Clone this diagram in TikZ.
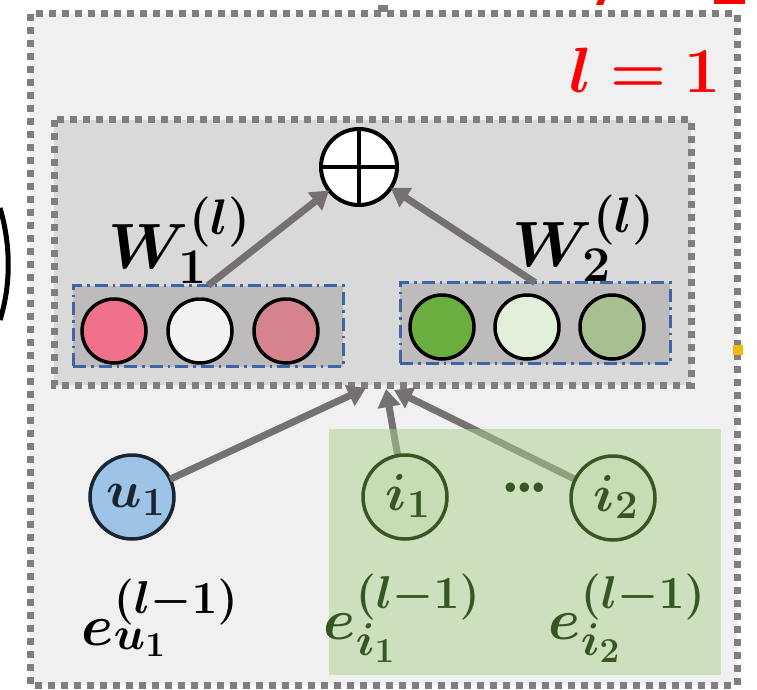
\RequirePackage{fix-cm}
\documentclass[tikz,border=0pt]{standalone}
\usepackage{amsmath,bm}
\usetikzlibrary{arrows.meta}

% larger scripts for the big formula sizes
\DeclareMathSizes{64}{64}{50}{38}
\DeclareMathSizes{58}{58}{46}{35}
\DeclareMathSizes{52}{52}{40}{30}

\definecolor{outerbg}{HTML}{F0F0F0}
\definecolor{innerbg}{HTML}{D9D9D9}
\definecolor{rowbg}{HTML}{BDBBBB}
\definecolor{dotgray}{HTML}{7F7F7F}
\definecolor{arrowgray}{HTML}{767171}
\definecolor{dashblue}{HTML}{3E64A6}
\definecolor{pinkA}{HTML}{F0728A}
\definecolor{pinkB}{HTML}{F2F2F2}
\definecolor{pinkC}{HTML}{D5838D}
\definecolor{greenA}{HTML}{6AAE3F}
\definecolor{greenB}{HTML}{E2EFD9}
\definecolor{greenC}{HTML}{A8BF90}
\definecolor{itemgreen}{HTML}{A9D18E}
\definecolor{itemfill}{HTML}{C6DCB5}
\definecolor{darkgreen}{HTML}{375623}
\definecolor{userblue}{HTML}{9DC3E6}
\definecolor{usernavy}{HTML}{1A2533}
\definecolor{layerred}{HTML}{FF0000}
\definecolor{tickorange}{HTML}{F2B90F}

\tikzset{
  dotbox/.style={draw=dotgray, line width=7pt, dash pattern=on 7pt off 6pt},
  rowbox/.style={fill=rowbg, draw=dashblue, line width=3pt,
    dash pattern=on 13pt off 5pt on 2.5pt off 5pt,
    minimum width=270pt, minimum height=81pt, inner sep=0pt, outer sep=0pt},
  unit/.style={circle, draw=black, line width=3.5pt, minimum size=64pt,
    inner sep=0pt, outer sep=0pt},
  entity/.style={circle, line width=3.5pt, minimum size=84pt,
    inner sep=0pt, outer sep=0pt},
  arr/.style={draw=arrowgray, line width=7pt,
    -{Triangle[length=18pt, width=22pt]}},
  bigmath/.style={inner sep=0pt, font=\fontsize{64}{64}\selectfont},
  midmath/.style={inner sep=0pt, font=\fontsize{58}{58}\selectfont},
  nodemath/.style={inner sep=0pt, font=\fontsize{52}{52}\selectfont},
}

\begin{document}
\begin{tikzpicture}[x=1pt, y=-1pt]
\useasboundingbox (0,0) rectangle (757,690);
\fill[white] (0,0) rectangle (757,690);

% right half of a bracket cut by the left edge
\draw[line width=5pt] (0,208) .. controls (11,245) and (11,285) .. (0,320);

% small marks above and beside the layer frame
\fill[layerred] (598,0) -- (605,0) -- (603,5) -- (596,5) -- cycle;
\fill[layerred] (714,0) rectangle (745,4);
\fill[dotgray] (378,5) rectangle (388,12);

% layer frame
\draw[dotbox, fill=outerbg] (30,14) rectangle (737,685);
\fill[tickorange] (733,345) rectangle (743,355);

% layer label
\node[bigmath, text=layerred] (layer) at (645,70) {$\bm{l=1}$};

% aggregation block
\draw[dotbox, fill=innerbg] (54,120) rectangle (691,385);

% weight rows
\node[rowbox] (row1) at (208,326) {};
\node[rowbox] (row2) at (535,323) {};

\node[unit, fill=pinkA] (a1) at (114,331) {};
\node[unit, fill=pinkB] (a2) at (200,331) {};
\node[unit, fill=pinkC] (a3) at (286,331) {};
\node[unit, fill=greenA] (b1) at (442,327) {};
\node[unit, fill=greenB] (b2) at (527,327) {};
\node[unit, fill=greenC] (b3) at (612,327) {};

% sum node
\node[circle, draw=black, fill=white, line width=4pt, minimum size=76pt,
  inner sep=0pt, outer sep=0pt] (plus) at (359,167) {};
\draw[line width=4pt] (plus.north) -- (plus.south);
\draw[line width=4pt] (plus.west) -- (plus.east);

% weight labels
\node[bigmath] (w1) at (180,240) {$\bm{W^{(l)}_1}$};
\node[bigmath] (w2) at (584,238) {$\bm{W^{(l)}_2}$};

\draw[arr] (row1.north) -- (plus);
\draw[arr] (row2.north) -- (plus);

% inputs
\node[entity, draw=usernavy, fill=userblue] (u1) at (132,497) {};
\node[nodemath, text=usernavy] (u1t) at (136,500) {$\bm{u_1}$};

\coordinate (hub1) at (366,388);
\coordinate (hub2) at (386,389);
\coordinate (hub3) at (394,390);

\coordinate (i1c) at (405,497);
\coordinate (i2c) at (613,498);
\draw[arr] (u1) -- (hub1);
\draw[arr, shorten <=42pt] (i1c) -- (hub2);
\draw[arr, shorten <=42pt] (i2c) -- (hub3);

% item region
\fill[itemgreen, opacity=0.5] (329,429) rectangle (721,675);

\node[entity, draw=darkgreen, fill=itemfill] (i1) at (i1c) {};
\node[nodemath, text=darkgreen] (i1t) at (408,496) {$\bm{i_1}$};
\node[entity, draw=darkgreen, fill=itemfill] (i2) at (i2c) {};
\node[nodemath, text=darkgreen] (i2t) at (616,497) {$\bm{i_2}$};
\node[inner sep=0pt, text=darkgreen, font=\fontsize{66}{66}\bfseries]
  (dots) at (525,488) {.\kern-6.5pt.\kern-6.5pt.};

% embedding labels
\node[midmath] (eu1) at (160,618) {$\bm{e^{(l-1)}_{u_1}}$};
\node[midmath, text=darkgreen] (ei1) at (402,618) {$\bm{e^{(l-1)}_{i_1}}$};
\node[midmath, text=darkgreen] (ei2) at (627,618) {$\bm{e^{(l-1)}_{i_2}}$};
\end{tikzpicture}
\end{document}
